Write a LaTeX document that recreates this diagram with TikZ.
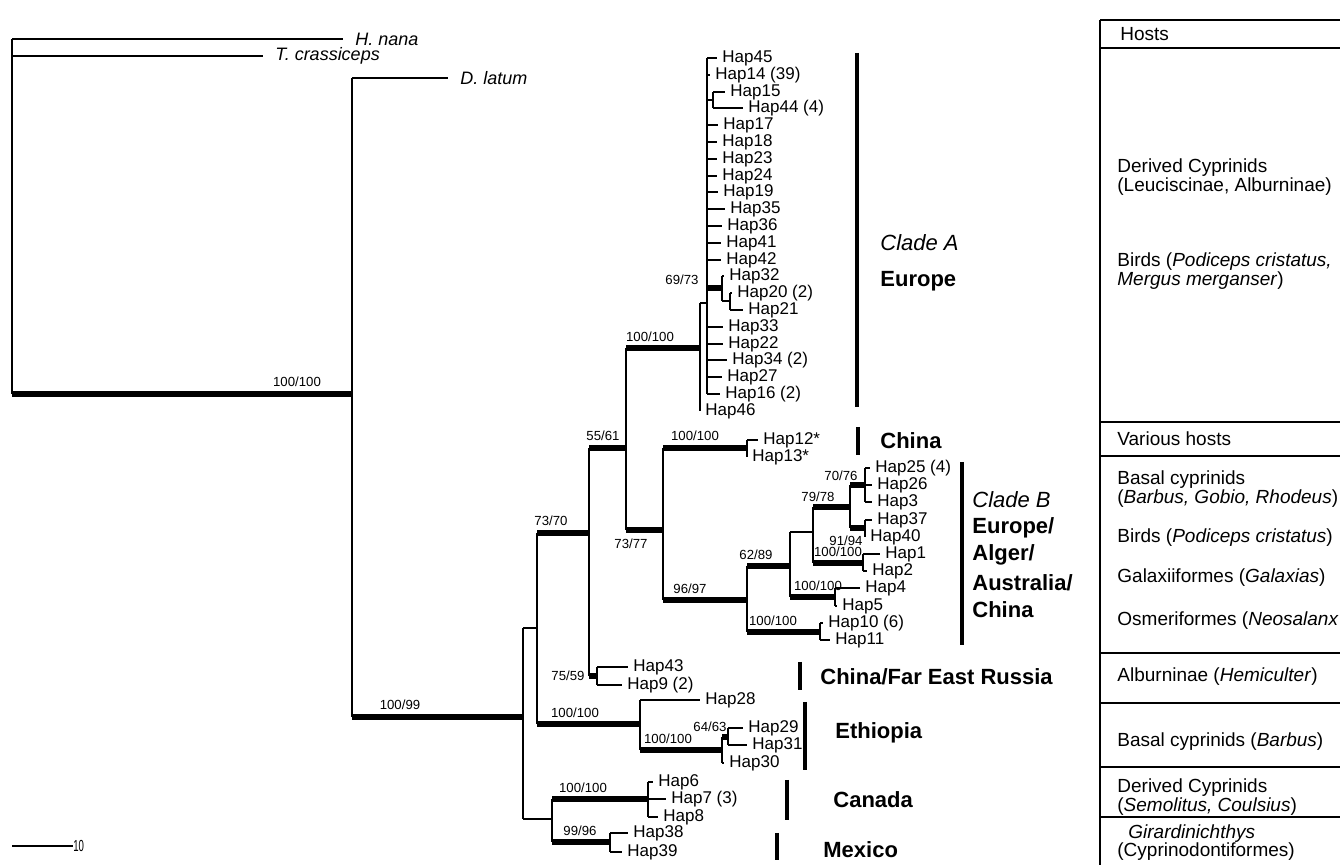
\documentclass[tikz,border=0pt]{standalone}
\usepackage{fontspec}
\setmainfont{Liberation Sans}
\usepackage{graphicx}
\begin{document}
\begin{tikzpicture}[x=0.5pt,y=-0.5pt,
  br/.style={line width=1pt},
  strong/.style={line width=3pt},
  bar/.style={line width=2pt},
  tip/.style={anchor=west,inner sep=2.5pt,font=\fontsize{8.5}{10}\selectfont},
  outg/.style={anchor=west,inner xsep=6pt,inner ysep=1pt,font=\fontsize{9}{11}\selectfont\itshape},
  boot/.style={inner sep=0pt,font=\fontsize{6.6}{8}\selectfont},
  clade/.style={anchor=west,inner sep=0pt,font=\fontsize{11}{13}\selectfont\bfseries},
  host/.style={anchor=west,inner sep=0pt,font=\fontsize{9.5}{11}\selectfont}]
 \useasboundingbox (0,0) rectangle (1340,865);
 \fill[white] (0,0) rectangle (1340,865);
 % outgroups and root
 \node[outg] (hnana) at (343,39) {H. nana};
 \node[outg] (tcras) at (263,56) {T. crassiceps};
 \node[outg] (dlat) at (448,78) {D. latum};
 \draw[br] (12,39) -- (12,394);
 \draw[br] (12,39) -- (hnana.west);
 \draw[br] (12,56) -- (tcras.west);
 \draw[strong] (12,394) -- (352,394);
 \draw[br] (352,78) -- (352,717);
 \draw[br] (352,78) -- (dlat.west);
 \node[boot] (b1) at (297,382) {100/100};
 \draw[strong] (352,717) -- (523,717);
 \node[boot] (b2) at (400,705) {100/99};
 % clade A tips
 \node[tip] (h45) at (717,58) {Hap45};
 \node[tip] (h14) at (710,75) {Hap14 (39)};
 \node[tip] (h15) at (725,92) {Hap15};
 \node[tip] (h44) at (743,108) {Hap44 (4)};
 \node[tip] (h17) at (718,125) {Hap17};
 \node[tip] (h18) at (717,142) {Hap18};
 \node[tip] (h23) at (717,159) {Hap23};
 \node[tip] (h24) at (717,176) {Hap24};
 \node[tip] (h19) at (718,192) {Hap19};
 \node[tip] (h35) at (725,209) {Hap35};
 \node[tip] (h36) at (722,226) {Hap36};
 \node[tip] (h41) at (721,243) {Hap41};
 \node[tip] (h42) at (721,260) {Hap42};
 \node[tip] (h32) at (724,276) {Hap32};
 \node[tip] (h20) at (732,293) {Hap20 (2)};
 \node[tip] (h21) at (743,310) {Hap21};
 \node[tip] (h33) at (723,327) {Hap33};
 \node[tip] (h22) at (723,344) {Hap22};
 \node[tip] (h34) at (727,360) {Hap34 (2)};
 \node[tip] (h27) at (722,377) {Hap27};
 \node[tip] (h16) at (720,394) {Hap16 (2)};
 \node[tip] (h46) at (700,411) {Hap46};
 % clade A branches
 \draw[br] (707,58) -- (707,394);
 \draw[br] (707,58) -- (h45.west);
 \draw[br] (707,75) -- (h14.west);
 \draw[br] (707,100) -- (713,100);
 \draw[br] (713,92) -- (713,108);
 \draw[br] (713,92) -- (h15.west);
 \draw[br] (713,108) -- (h44.west);
 \draw[br] (707,125) -- (h17.west);
 \draw[br] (707,142) -- (h18.west);
 \draw[br] (707,159) -- (h23.west);
 \draw[br] (707,176) -- (h24.west);
 \draw[br] (707,192) -- (h19.west);
 \draw[br] (707,209) -- (h35.west);
 \draw[br] (707,226) -- (h36.west);
 \draw[br] (707,243) -- (h41.west);
 \draw[br] (707,260) -- (h42.west);
 \draw[strong] (707,288) -- (722,288);
 \draw[br] (722,276) -- (722,301);
 \draw[br] (722,276) -- (h32.west);
 \draw[br] (722,301) -- (730,301);
 \draw[br] (730,293) -- (730,310);
 \draw[br] (730,293) -- (h20.west);
 \draw[br] (730,310) -- (h21.west);
 \draw[br] (707,327) -- (h33.west);
 \draw[br] (707,344) -- (h22.west);
 \draw[br] (707,360) -- (h34.west);
 \draw[br] (707,377) -- (h27.west);
 \draw[br] (707,394) -- (h16.west);
 \draw[br] (700,303) -- (707,303);
 \draw[br] (700,303) -- (700,411);
 \draw[strong] (626,348) -- (700,348);
 \node[boot] (b3) at (682,280) {69/73};
 \node[boot] (b4) at (650,337) {100/100};
 % China and clade B tips
 \node[tip] (h12) at (758,440) {Hap12*};
 \node[tip] (h13) at (747,457) {Hap13*};
 \node[tip] (h25) at (870,468) {Hap25 (4)};
 \node[tip] (h26) at (872,485) {Hap26};
 \node[tip] (h3) at (872,502) {Hap3};
 \node[tip] (h37) at (872,520) {Hap37};
 \node[tip] (h40) at (865,537) {Hap40};
 \node[tip] (h1) at (880,554) {Hap1};
 \node[tip] (h2) at (867,571) {Hap2};
 \node[tip] (h4) at (860,588) {Hap4};
 \node[tip] (h5) at (837,606) {Hap5};
 \node[tip] (h10) at (823,623) {Hap10 (6)};
 \node[tip] (h11) at (830,640) {Hap11};
 % middle branches
 \draw[br] (523,628) -- (523,819);
 \draw[br] (523,628) -- (537,628);
 \draw[br] (537,533) -- (537,724);
 \draw[strong] (537,533) -- (589,533);
 \node[boot] (b5) at (551,521) {73/70};
 \draw[br] (589,448) -- (589,676);
 \draw[strong] (589,448) -- (626,448);
 \node[boot] (b6) at (603,436) {55/61};
 \draw[br] (626,348) -- (626,530);
 \draw[strong] (626,530) -- (663,530);
 \node[boot] (b7) at (631,544) {73/77};
 \draw[br] (663,448) -- (663,600);
 \draw[strong] (663,448) -- (747,448);
 \node[boot] (b8) at (695,436) {100/100};
 \draw[br] (747,440) -- (747,457);
 \draw[br] (747,440) -- (h12.west);
 \draw[strong] (663,600) -- (747,600);
 \node[boot] (b9) at (690,589) {96/97};
 \draw[br] (747,566) -- (747,632);
 \draw[strong] (747,566) -- (790,566);
 \node[boot] (b10) at (756,555) {62/89};
 \draw[br] (790,532) -- (790,597);
 \draw[br] (790,532) -- (813,532);
 \draw[br] (813,507) -- (813,563);
 \draw[strong] (813,507) -- (850,507);
 \node[boot] (b11) at (818,497) {79/78};
 \draw[br] (850,485) -- (850,528);
 \draw[strong] (850,485) -- (865,485);
 \node[boot] (b12) at (841,476) {70/76};
 \draw[br] (865,468) -- (865,502);
 \draw[br] (865,468) -- (h25.west);
 \draw[br] (865,485) -- (h26.west);
 \draw[br] (865,502) -- (h3.west);
 \draw[strong] (850,528) -- (865,528);
 \node[boot] (b13) at (846,541) {91/94};
 \draw[br] (865,520) -- (865,537);
 \draw[br] (865,520) -- (h37.west);
 \draw[strong] (813,563) -- (863,563);
 \node[boot] (b14) at (838,552) {100/100};
 \draw[br] (863,554) -- (863,571);
 \draw[br] (863,554) -- (h1.west);
 \draw[br] (863,571) -- (h2.west);
 \draw[strong] (790,597) -- (835,597);
 \node[boot] (b15) at (818,586) {100/100};
 \draw[br] (835,588) -- (835,606);
 \draw[br] (835,588) -- (h4.west);
 \draw[br] (835,606) -- (h5.west);
 \draw[strong] (747,632) -- (820,632);
 \node[boot] (b16) at (773,621) {100/100};
 \draw[br] (820,623) -- (820,640);
 \draw[br] (820,623) -- (h10.west);
 \draw[br] (820,640) -- (h11.west);
 % lower tips
 \node[tip] (h43) at (628,667) {Hap43};
 \node[tip] (h9) at (622,685) {Hap9 (2)};
 \node[tip] (h28) at (700,700) {Hap28};
 \node[tip] (h29) at (743,728) {Hap29};
 \node[tip] (h31) at (747,745) {Hap31};
 \node[tip] (h30) at (724,763) {Hap30};
 \node[tip] (h6) at (653,782) {Hap6};
 \node[tip] (h7) at (666,799) {Hap7 (3)};
 \node[tip] (h8) at (658,817) {Hap8};
 \node[tip] (h38) at (628,833) {Hap38};
 \node[tip] (h39) at (622,852) {Hap39};
 % lower branches
 \draw[strong] (589,676) -- (597,676);
 \node[boot] (b17) at (568,676) {75/59};
 \draw[br] (597,667) -- (597,685);
 \draw[br] (597,667) -- (h43.west);
 \draw[br] (597,685) -- (h9.west);
 \draw[strong] (537,724) -- (640,724);
 \node[boot] (b18) at (575,713) {100/100};
 \draw[br] (640,700) -- (640,750);
 \draw[br] (640,700) -- (h28.west);
 \draw[strong] (640,750) -- (722,750);
 \node[boot] (b19) at (668,739) {100/100};
 \draw[br] (722,737) -- (722,763);
 \draw[strong] (722,737) -- (728,737);
 \node[boot] (b20) at (710,727) {64/63};
 \draw[br] (728,728) -- (728,745);
 \draw[br] (728,728) -- (h29.west);
 \draw[br] (728,745) -- (h31.west);
 \draw[br] (722,763) -- (h30.west);
 \draw[br] (523,819) -- (552,819);
 \draw[br] (552,799) -- (552,842);
 \draw[strong] (552,799) -- (648,799);
 \node[boot] (b21) at (583,788) {100/100};
 \draw[br] (648,782) -- (648,817);
 \draw[br] (648,782) -- (h6.west);
 \draw[br] (648,799) -- (h7.west);
 \draw[br] (648,817) -- (h8.west);
 \draw[strong] (552,842) -- (610,842);
 \node[boot] (b22) at (580,831) {99/96};
 \draw[br] (610,833) -- (610,852);
 \draw[br] (610,833) -- (h38.west);
 \draw[br] (610,852) -- (h39.west);
 % clade bars and names
 \draw[bar] (857,53) -- (857,407);
 \node[clade,font=\fontsize{11}{13}\selectfont\itshape] (cla) at (880,243) {Clade A};
 \node[clade] (eur) at (880,281) {Europe};
 \draw[bar] (858,427) -- (858,455);
 \node[clade] (chn) at (880,441) {China};
 \draw[bar] (962,462) -- (962,645);
 \node[clade,font=\fontsize{11}{13}\selectfont\itshape] (clb) at (972,500) {Clade B};
 \node[clade] (clb1) at (972,528) {Europe/};
 \node[clade] (clb2) at (972,555) {Alger/};
 \node[clade] (clb3) at (972,583) {Australia/};
 \node[clade] (clb4) at (972,610) {China};
 \draw[bar] (800,662) -- (800,690);
 \node[clade] (cfer) at (820,677) {China/Far East Russia};
 \draw[bar] (805,702) -- (805,770);
 \node[clade] (eth) at (835,733) {Ethiopia};
 \draw[bar] (787,780) -- (787,820);
 \node[clade] (can) at (833,800) {Canada};
 \draw[bar] (777,833) -- (777,860);
 \node[clade] (mex) at (823,850) {Mexico};
 % hosts table
 \draw[br] (1100,20) -- (1100,865);
 \draw[br] (1100,20) -- (1340,20);
 \draw[br] (1100,48) -- (1340,48);
 \draw[br] (1100,422) -- (1340,422);
 \draw[br] (1100,456) -- (1340,456);
 \draw[br] (1100,653) -- (1340,653);
 \draw[br] (1100,703) -- (1340,703);
 \draw[br] (1100,767) -- (1340,767);
 \draw[br] (1100,817) -- (1340,817);
 \node[host] (t0) at (1120,34) {Hosts};
 \node[host] (t1) at (1117,168) {Derived Cyprinids};
 \node[host] (t2) at (1117,187) {(Leuciscinae, Alburninae)};
 \node[host] (t3) at (1117,262) {Birds (\textit{Podiceps cristatus,}};
 \node[host] (t4) at (1117,281) {\textit{Mergus merganser})};
 \node[host] (t5) at (1117,439) {Various hosts};
 \node[host] (t6) at (1117,480) {Basal cyprinids};
 \node[host] (t7) at (1117,499) {(\textit{Barbus, Gobio, Rhodeus})};
 \node[host] (t8) at (1117,538) {Birds (\textit{Podiceps cristatus})};
 \node[host] (t9) at (1117,578) {Galaxiiformes (\textit{Galaxias})};
 \node[host] (t10) at (1117,621) {Osmeriformes (\textit{Neosalanx}};
 \node[host] (t11) at (1117,677) {Alburninae (\textit{Hemiculter})};
 \node[host] (t12) at (1117,742) {Basal cyprinids (\textit{Barbus})};
 \node[host] (t13) at (1117,788) {Derived Cyprinids};
 \node[host] (t14) at (1117,807) {(\textit{Semolitus, Coulsius})};
 \node[host] (t15) at (1128,834) {\textit{Girardinichthys}};
 \node[host] (t16) at (1117,852) {(Cyprinodontiformes)};
 % scale bar
 \coordinate (s0) at (12,846);
 \node[anchor=west,inner sep=0pt,font=\fontsize{8}{9}\selectfont] (s1) at (73,846) {\scalebox{0.6}[1]{10}};
 \draw[br] (s0) -- (s1.west);
\end{tikzpicture}
\end{document}
